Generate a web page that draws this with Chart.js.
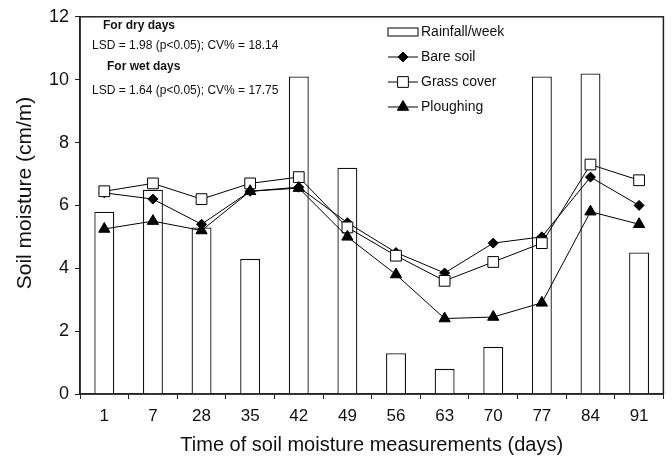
<!DOCTYPE html>
<html>
<head>
<meta charset="utf-8">
<script src="https://cdn.jsdelivr.net/npm/chart.js@4/dist/chart.umd.min.js"></script>
<style>
  html,body{margin:0;padding:0;background:#fff;}
  #wrap{width:672px;height:457px;position:relative;}
</style>
</head>
<body>
<div id="wrap"><canvas id="chart" width="672" height="457"></canvas></div>
<script>
// data
const days      = ["1","7","28","35","42","49","56","63","70","77","84","91"];
const rainfall  = [5.8, 6.5, 5.3, 4.3, 10.1, 7.2, 1.3, 0.8, 1.5, 10.1, 10.2, 4.5];
const bareSoil  = [6.4, 6.2, 5.4, 6.45, 6.58, 5.45, 4.5, 3.85, 4.8, 5.0, 6.9, 6.0];
const grass     = [6.45, 6.7, 6.2, 6.7, 6.9, 5.3, 4.4, 3.6, 4.2, 4.8, 7.3, 6.8];
const plough    = [5.25, 5.5, 5.2, 6.45, 6.55, 5.0, 3.8, 2.4, 2.45, 2.9, 5.8, 5.4];
const yTicks    = [0, 2, 4, 6, 8, 10, 12];
const yTitle    = "Soil moisture (cm/m)";
const notes = [
  {t:"For dry days", bold:true, x:103, y:26},
  {t:"LSD = 1.98 (p<0.05); CV% = 18.14", bold:false, x:92, y:46},
  {t:"For wet days", bold:true, x:107, y:67},
  {t:"LSD = 1.64 (p<0.05); CV% = 17.75", bold:false, x:92, y:91}
];

const FONT = "Arial, 'Liberation Sans', sans-serif";
const INK = "#000";

// box round plot, y title, notes, legend
const extras = {
  id: "extras",
  afterDatasetsDraw(chart){
    const {ctx, chartArea:a} = chart;
    ctx.save();
    ctx.strokeStyle = "#222";
    ctx.lineWidth = 1.5;
    ctx.strokeRect(a.left, a.top, a.right - a.left, a.bottom - a.top);

    // y title (sits a little above centre in the original)
    ctx.save();
    ctx.translate(25, 193);
    ctx.rotate(-Math.PI/2);
    ctx.font = "21px " + FONT;
    ctx.fillStyle = "#111";
    ctx.textAlign = "center";
    ctx.textBaseline = "middle";
    ctx.fillText(yTitle, 0, 0);
    ctx.restore();

    ctx.fillStyle = "#111";
    ctx.textBaseline = "middle";
    notes.forEach(n=>{
      ctx.font = (n.bold ? "bold " : "") + "12px " + FONT;
      ctx.fillText(n.t, n.x, n.y);
    });

    // legend
    const lx = 388, ly = 32, gap = 25;
    ctx.font = "14px " + FONT;
    chart.data.datasets.forEach((ds,i)=>{
      const y = ly + i*gap;
      ctx.lineWidth = 1;
      ctx.strokeStyle = INK;
      if (ds.type === "bar"){
        ctx.fillStyle = "#fff";
        ctx.fillRect(lx, y-4, 30, 8);
        ctx.strokeRect(lx, y-4, 30, 8);
      } else {
        ctx.beginPath(); ctx.moveTo(lx, y); ctx.lineTo(lx+30, y); ctx.stroke();
        ctx.fillStyle = ds.pointBackgroundColor;
        Chart.helpers.drawPoint(ctx, {pointStyle: ds.pointStyle, radius: ds.pointRadius, rotation:0, borderWidth:1}, lx+15, y);
      }
      ctx.fillStyle = "#111";
      ctx.fillText(ds.label, lx+33, y);
    });
    ctx.restore();
  }
};

const lineDs = (label, data, style, fill, r, ord)=>({
  type:"line", label, data, order: ord,
  borderColor: INK, borderWidth: 1, tension: 0,
  pointStyle: style, pointRadius: r, pointHoverRadius: r,
  pointBackgroundColor: fill, pointBorderColor: INK, pointBorderWidth: 1
});

new Chart(document.getElementById("chart"), {
  data: {
    labels: days,
    datasets: [
      { type:"bar", label:"Rainfall/week", data: rainfall, order: 10,
        backgroundColor:"#fff", borderColor:"#111", borderWidth: 1.3,
        barPercentage: 0.41, categoryPercentage: 1 },
      lineDs("Bare soil", bareSoil, "rectRot", INK, 5, 3),
      lineDs("Grass cover", grass, "rect", "#fff", 7.6, 2),
      lineDs("Ploughing", plough, "triangle", INK, 6.5, 1)
    ]
  },
  plugins: [extras],
  options: {
    responsive: false,
    animation: false,
    layout: { padding: { top: 13, right: 6, left: 0, bottom: 0 } },
    plugins: { legend: { display:false }, tooltip: { enabled:false } },
    scales: {
      x: {
        offset: true,
        grid: { display:true, offset:true, drawOnChartArea:false, drawTicks:true, tickLength:5, color:"#222" },
        border: { display:true, color:"#222", width:1.5 },
        ticks: { color:"#111", font:{ family: FONT, size: 17 }, padding: 7, maxRotation:0 },
        title: { display:true, text:"Time of soil moisture measurements (days)", color:"#111",
                 font:{ family: FONT, size: 20 }, padding:{ top: 0, bottom: 0 } },
        afterFit(s){ s.height = 63; }
      },
      y: {
        min: 0, max: 12,
        afterBuildTicks(s){ s.ticks = yTicks.map(v=>({value:v})); },
        grid: { display:true, drawOnChartArea:false, drawTicks:true, tickLength:5, color:"#222" },
        border: { display:true, color:"#222", width:1.5 },
        ticks: { color:"#111", font:{ family: FONT, size: 18 }, padding: 6 },
        afterFit(s){ s.width = 80; }
      }
    }
  }
});
</script>
</body>
</html>
